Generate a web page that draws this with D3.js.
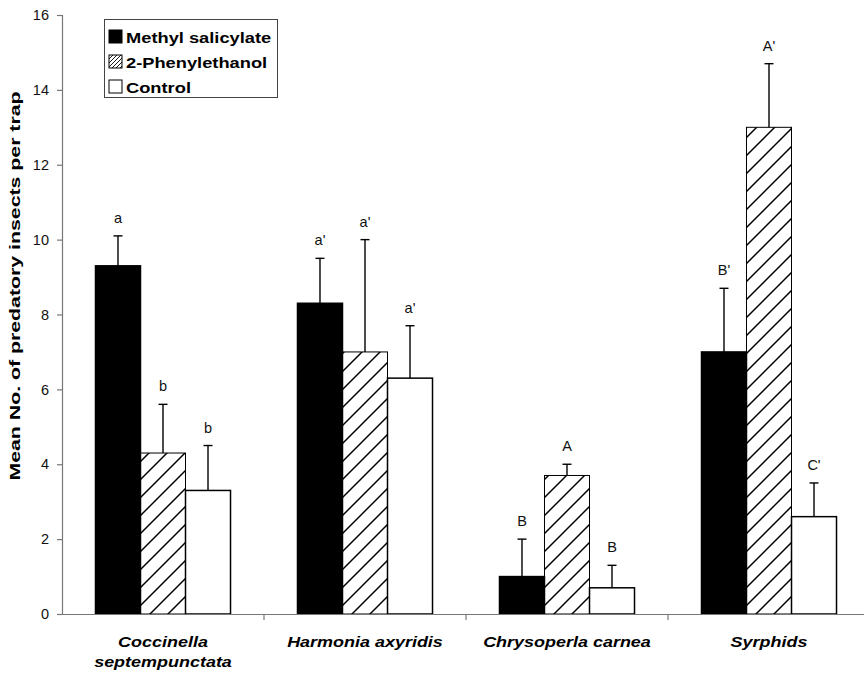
<!DOCTYPE html>
<html>
<head>
<meta charset="utf-8">
<script src="https://cdn.jsdelivr.net/npm/d3@7/dist/d3.min.js"></script>
<style>
  html, body { margin: 0; padding: 0; background: #fff; }
  svg { display: block; font-family: "Liberation Sans", Arial, sans-serif; }
</style>
</head>
<body>
<svg id="chart" width="864" height="675"></svg>
<script>
// Predator categories (two-line labels where needed)
const categories = ["Coccinella septempunctata", "Harmonia axyridis", "Chrysoperla carnea", "Syrphids"];
const categoryLines = [["Coccinella", "septempunctata"], ["Harmonia axyridis"], ["Chrysoperla carnea"], ["Syrphids"]];
const series = ["Methyl salicylate", "2-Phenylethanol", "Control"];

// Means per category for each lure
const methylSalicylate = [9.3, 8.3, 1.0, 7.0];
const phenylethanol    = [4.3, 7.0, 3.7, 13.0];
const control          = [3.3, 6.3, 0.7, 2.6];

// Upper ends of the error bars (mean + SE)
const methylSalicylateErr = [10.1, 9.5, 2.0, 8.7];
const phenylethanolErr    = [5.6, 10.0, 4.0, 14.7];
const controlErr          = [4.5, 7.7, 1.3, 3.5];

// Significance letters
const methylSalicylateSig = ["a", "a'", "B", "B'"];
const phenylethanolSig    = ["b", "a'", "A", "A'"];
const controlSig          = ["b", "a'", "B", "C'"];

const yTicks = [0, 2, 4, 6, 8, 10, 12, 14, 16];

const svg = d3.select("#chart");

const x0 = d3.scaleBand().domain(categories).range([62, 870]).padding(0);
const x1 = d3.scaleBand().domain(series).range([0, x0.bandwidth()]).paddingInner(0).paddingOuter(0.744);
const y = d3.scaleLinear().domain([0, 16]).range([614, 15]);

// Hatch patterns: wide for the bars, fine for the legend swatch
const defs = svg.append("defs");
function hatch(id, s, w) {
  defs.append("pattern")
    .attr("id", id).attr("patternUnits", "userSpaceOnUse")
    .attr("width", s).attr("height", s)
    .append("path")
    .attr("d", `M0,${s} L${s},0 M${-s / 4},${s / 4} L${s / 4},${-s / 4} M${s * 0.75},${s * 1.25} L${s * 1.25},${s * 0.75}`)
    .attr("stroke", "#000").attr("stroke-width", w);
}
hatch("hatchBar", 18, 1.5);
hatch("hatchKey", 4, 0.9);

const fills = { "Methyl salicylate": "#000", "2-Phenylethanol": "url(#hatchBar)", "Control": "#fff" };
const keyFills = { "Methyl salicylate": "#000", "2-Phenylethanol": "url(#hatchKey)", "Control": "#fff" };

const rows = categories.map((c, i) => ({
  cat: c,
  items: [
    { s: series[0], v: methylSalicylate[i], e: methylSalicylateErr[i], sig: methylSalicylateSig[i] },
    { s: series[1], v: phenylethanol[i], e: phenylethanolErr[i], sig: phenylethanolSig[i] },
    { s: series[2], v: control[i], e: controlErr[i], sig: controlSig[i] }
  ]
}));

// Axes
const yAxis = d3.axisLeft(y).tickValues(yTicks).tickSize(5).tickPadding(8).tickFormat(d3.format("d"));
const gy = svg.append("g").attr("transform", "translate(62,0)").call(yAxis);
gy.select(".domain").attr("stroke", "#777").attr("stroke-width", 1.2);
gy.selectAll(".tick line").attr("stroke", "#777").attr("stroke-width", 1.2);
gy.selectAll(".tick text").attr("font-size", 14.5).attr("fill", "#111")
  .attr("font-family", "'Liberation Sans', Arial, sans-serif");

const groups = svg.append("g").selectAll("g").data(rows).join("g")
  .attr("transform", d => `translate(${x0(d.cat)},0)`);

// Bars
groups.selectAll("rect").data(d => d.items).join("rect")
  .attr("x", d => x1(d.s))
  .attr("y", d => y(d.v))
  .attr("width", x1.bandwidth())
  .attr("height", d => y(0) - y(d.v))
  .attr("fill", d => fills[d.s])
  .attr("stroke", "#000")
  .attr("stroke-width", d => d.s === "2-Phenylethanol" ? 1 : 1.5);

// Error bars (upper only)
const eb = groups.selectAll("g.err").data(d => d.items).join("g").attr("class", "err");
eb.append("line")
  .attr("x1", d => x1(d.s) + x1.bandwidth() / 2).attr("x2", d => x1(d.s) + x1.bandwidth() / 2)
  .attr("y1", d => y(d.v)).attr("y2", d => y(d.e))
  .attr("stroke", "#000").attr("stroke-width", 1.4);
eb.append("line")
  .attr("x1", d => x1(d.s) + x1.bandwidth() / 2 - 4.5).attr("x2", d => x1(d.s) + x1.bandwidth() / 2 + 4.5)
  .attr("y1", d => y(d.e)).attr("y2", d => y(d.e))
  .attr("stroke", "#000").attr("stroke-width", 1.4);
eb.append("text")
  .attr("x", d => x1(d.s) + x1.bandwidth() / 2)
  .attr("y", d => y(d.e) - 13)
  .attr("text-anchor", "middle")
  .attr("font-size", 14.5)
  .attr("fill", "#111")
  .text(d => d.sig);

// X axis
const gx = svg.append("g").attr("transform", `translate(0,${y(0)})`)
  .call(d3.axisBottom(x0).tickSize(0).tickFormat(""));
gx.select(".domain").attr("stroke", "#777").attr("stroke-width", 1.2);
gx.selectAll(".tick").remove();
// Tick marks between categories
svg.append("g").selectAll("line").data(categories.slice(1)).join("line")
  .attr("x1", d => x0(d)).attr("x2", d => x0(d))
  .attr("y1", y(0)).attr("y2", y(0) + 6)
  .attr("stroke", "#777").attr("stroke-width", 1.2);

// Category labels (slightly widened bold italic)
const catStretch = 1.16;
svg.append("g").selectAll("text").data(categories).join("text")
  .attr("transform", d => `translate(${x0(d) + x0.bandwidth() / 2},647) scale(${catStretch},1)`)
  .attr("text-anchor", "middle")
  .attr("font-size", 15.5)
  .attr("font-weight", "bold")
  .attr("font-style", "italic")
  .attr("fill", "#000")
  .each(function (d, i) {
    const t = d3.select(this);
    categoryLines[i].forEach((ln, j) => {
      t.append("tspan").attr("x", 0).attr("dy", j === 0 ? 0 : 20).text(ln);
    });
  });

// Y axis title
svg.append("text")
  .attr("transform", "translate(20,286) rotate(-90) scale(1.42,1)")
  .attr("text-anchor", "middle")
  .attr("font-size", 15)
  .attr("font-weight", "bold")
  .attr("fill", "#000")
  .text("Mean No. of predatory insects per trap");

// Legend
const lg = svg.append("g");
lg.append("rect").attr("x", 104.5).attr("y", 19.5).attr("width", 173).attr("height", 78)
  .attr("fill", "#fff").attr("stroke", "#444").attr("stroke-width", 1);
series.forEach((s, i) => {
  const cy = 31 + i * 25;
  lg.append("rect").attr("x", 109).attr("y", cy - 1).attr("width", 13).attr("height", 13)
    .attr("fill", keyFills[s]).attr("stroke", "#000").attr("stroke-width", 1);
  lg.append("text").attr("transform", `translate(126,${cy + 11.5}) scale(1.18,1)`)
    .attr("font-size", 15.5).attr("font-weight", "bold").attr("fill", "#000").text(s);
});
</script>
</body>
</html>
